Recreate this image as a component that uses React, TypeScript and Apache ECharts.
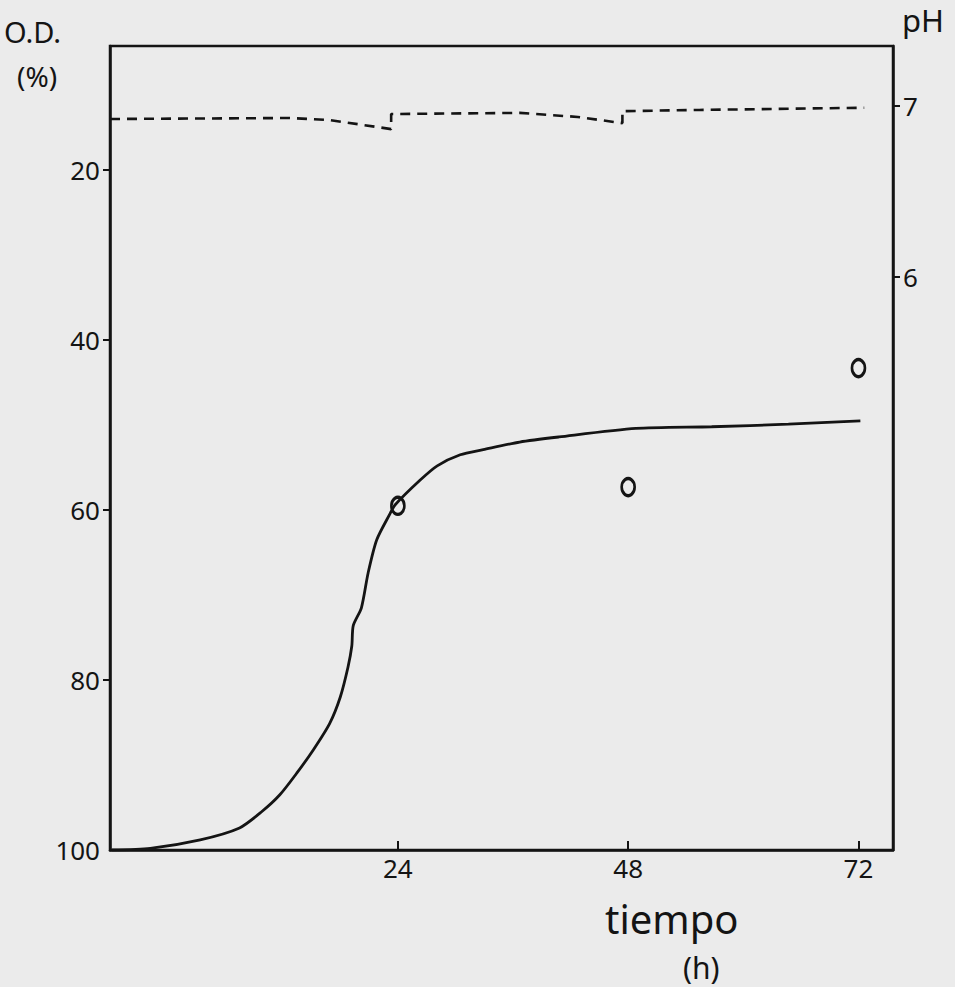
import React, { useEffect, useRef } from "react";
import * as echarts from "echarts";

// O.D. (%) growth curve: [tiempo (h), O.D. %]
const odHours = [-5.8, -1.8, 3.4, 7.5, 9.8, 11.7, 13.5, 15.2, 16.9, 18.0, 18.8, 19.2, 19.35, 20.2, 20.9, 21.8, 23.2, 23.7, 26.3, 28.1, 30.5, 32.9, 36.7, 40.8, 48.8, 56.7, 64.7, 72.2];
const odValues = [100, 99.8, 98.8, 97.4, 95.5, 93.5, 90.9, 88.2, 85.1, 82.0, 78.5, 76.0, 73.6, 71.5, 67.4, 63.5, 60.4, 59.4, 56.5, 54.8, 53.5, 52.9, 52.0, 51.4, 50.4, 50.2, 49.9, 49.5];

// Open circles
const pointHours = [24, 48, 72];
const pointValues = [59.5, 57.3, 43.3];

// pH (dashed)
const phHours = [-6, 12.75, 16.9, 23.3, 23.3, 36.7, 42.75, 47.4, 47.4, 55.4, 72.6];
const phValues = [6.924, 6.93, 6.918, 6.865, 6.953, 6.96, 6.936, 6.9, 6.97, 6.977, 6.99];

const xTicks = [24, 48, 72];
const odTickLabels = [20, 40, 60, 80, 100];
const odTicks = [20, 40, 60, 80];
const phTicks = [6, 7];

const INK = "#141414";
const FONT = "Noto Sans, DejaVu Sans, sans-serif";

export default function App() {
  const ref = useRef<HTMLDivElement>(null);
  useEffect(() => {
    if (!ref.current) return;
    const chart = echarts.init(ref.current, undefined, { renderer: "svg" });
    const odLine = odHours.map((h, i) => [h, odValues[i]]);
    const pts = pointHours.map((h, i) => [h, pointValues[i]]);
    const ph = phHours.map((h, i) => [h, phValues[i]]);
    chart.setOption({
      animation: false,
      backgroundColor: "#ebebeb",
      grid: {
        left: 110,
        right: 62,
        top: 46,
        bottom: 137,
        show: true,
        borderColor: INK,
        borderWidth: 2.5,
        backgroundColor: "transparent",
      },
      xAxis: {
        type: "value",
        min: -6,
        max: 75.6,
        axisLine: { show: true, onZero: false, lineStyle: { color: INK, width: 2.5 } },
        axisTick: { show: true, inside: true, length: 9, customValues: xTicks, lineStyle: { color: INK, width: 2 } },
        axisLabel: { customValues: xTicks, color: INK, fontSize: 26, fontFamily: FONT, margin: 5 },
        splitLine: { show: false },
      },
      yAxis: [
        {
          type: "value",
          inverse: true,
          min: 5.4,
          max: 100,
          position: "left",
          axisLine: { show: true, onZero: false, lineStyle: { color: INK, width: 2.5 } },
          axisTick: { show: true, length: 7, customValues: odTicks, lineStyle: { color: INK, width: 2 } },
          axisLabel: { customValues: odTickLabels, color: INK, fontSize: 26, fontFamily: FONT, margin: 10 },
          splitLine: { show: false },
        },
        {
          type: "value",
          min: 2.649,
          max: 7.351,
          position: "right",
          alignTicks: false,
          axisLine: { show: true, onZero: false, lineStyle: { color: INK, width: 2.5 } },
          axisTick: { show: true, length: 7, customValues: phTicks, lineStyle: { color: INK, width: 2 } },
          axisLabel: { customValues: phTicks, color: INK, fontSize: 26, fontFamily: FONT, margin: 10 },
          splitLine: { show: false },
        },
      ],
      graphic: [
        { type: "text", left: 4, top: 17, style: { text: "O.D.", fontSize: 29, fontFamily: FONT, fill: INK } },
        { type: "text", left: 17, top: 62, style: { text: "(%)", fontSize: 28, fontFamily: FONT, fill: INK } },
        { type: "text", left: 902, top: 4, style: { text: "pH", fontSize: 31, fontFamily: FONT, fill: INK } },
        { type: "text", left: 605, top: 898, style: { text: "tiempo", fontSize: 40, lineHeight: 40, fontFamily: FONT, fill: INK } },
        { type: "text", left: 683, top: 951, style: { text: "(h)", fontSize: 30, lineHeight: 32, fontFamily: FONT, fill: INK } },
      ],
      series: [
        {
          type: "line",
          name: "O.D.",
          xAxisIndex: 0,
          yAxisIndex: 0,
          data: odLine,
          smooth: 0.25,
          showSymbol: false,
          lineStyle: { color: INK, width: 2.8 },
        },
        {
          type: "scatter",
          name: "O.D. puntos",
          xAxisIndex: 0,
          yAxisIndex: 0,
          data: pts,
          symbol: "circle",
          symbolSize: [13, 17],
          itemStyle: { color: "transparent", borderColor: INK, borderWidth: 3, opacity: 1 },
        },
        {
          type: "line",
          name: "pH",
          xAxisIndex: 0,
          yAxisIndex: 1,
          data: ph,
          showSymbol: false,
          lineStyle: { color: INK, width: 2.6, type: [10, 7] },
        },
      ],
    });
    return () => chart.dispose();
  }, []);
  return (
    <div
      ref={ref}
      style={{ position: "fixed", left: 0, top: 0, width: 955, height: 987 }}
    />
  );
}
